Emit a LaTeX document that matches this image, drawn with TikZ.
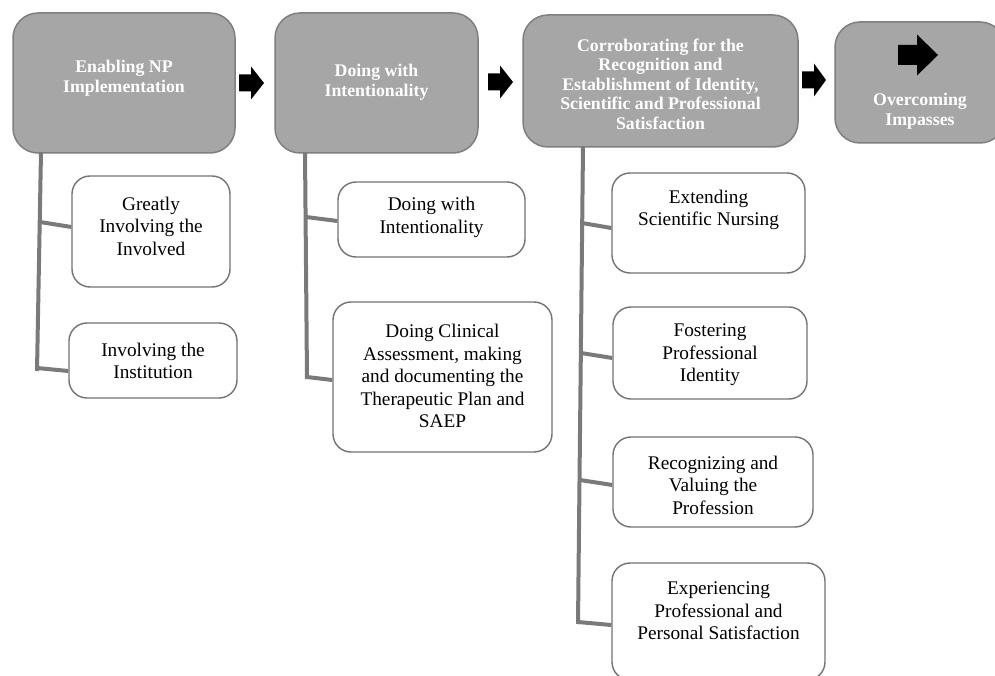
\documentclass[tikz,border=0pt]{standalone}
\usepackage{fontspec}
\setmainfont{Liberation Serif}
\usetikzlibrary{calc}
\definecolor{tfill}{HTML}{A6A6A6}
\definecolor{tline}{HTML}{7F7F7F}
\definecolor{sline}{HTML}{737373}
\definecolor{cline}{HTML}{7A7A7A}
\tikzset{
  tbox/.style={draw=tline, fill=tfill, line width=1.5pt, rounded corners=25pt, inner sep=0pt},
  sbox/.style={draw=sline, fill=white, line width=1.4pt, rounded corners=18pt, inner sep=0pt},
  ttext/.style={text=white, font=\bfseries\fontsize{17.8}{19.5}\selectfont, align=center, inner sep=0pt},
  stext/.style={text=black, font=\fontsize{19.3}{22.5}\selectfont, align=center, inner sep=0pt},
  conn/.style={draw=cline, line width=4pt},
}
\newcommand{\blockarr}[6]{\fill[black] (#1,#2-#5) -- (#3,#2-#5) -- (#3,#2-#6) -- (#4,#2) -- (#3,#2+#6) -- (#3,#2+#5) -- (#1,#2+#5) -- cycle;}
\begin{document}
\begin{tikzpicture}[x=1pt,y=-1pt]
\useasboundingbox (0,0) rectangle (995,676);
\clip (0,0) rectangle (995,676);
\fill[white] (0,0) rectangle (995,676);

% title boxes
\node[tbox, minimum width=222pt, minimum height=140pt] (t1) at (124,83) {};
\node[tbox, minimum width=203pt, minimum height=140pt] (t2) at (376.5,83) {};
\node[tbox, minimum width=275pt, minimum height=132pt] (t3) at (660.5,81) {};
\node[tbox, minimum width=170pt, minimum height=121pt] (t4) at (920,82.5) {};

\node[ttext] (t1l) at (124,78) {Enabling NP\\Implementation};
\node[ttext] (t2l) at (376.5,82) {Doing with\\Intentionality};
\node[ttext] (t3l) at (660.5,84) {Corroborating for the\\Recognition and\\Establishment of Identity,\\Scientific and Professional\\Satisfaction};
\node[ttext] (t4l) at (920,111) {Overcoming\\Impasses};

% block arrows
\blockarr{239}{83}{251}{264}{8.5}{16.5}
\blockarr{488}{82}{500}{513}{8.5}{16.5}
\blockarr{802}{80}{814}{826}{8.5}{16.5}
\blockarr{898}{55}{917}{938}{10}{20.5}

% sub boxes
\node[sbox, minimum width=158pt, minimum height=111pt] (s1) at (151,231.5) {};
\node[sbox, minimum width=168pt, minimum height=75pt] (s2) at (153,360.5) {};
\node[sbox, minimum width=187pt, minimum height=75pt] (s3) at (431.5,219.5) {};
\node[sbox, minimum width=219pt, minimum height=150pt] (s4) at (442.5,377) {};
\node[sbox, minimum width=193pt, minimum height=100pt] (s5) at (708.5,223) {};
\node[sbox, minimum width=194pt, minimum height=92pt] (s6) at (710,353) {};
\node[sbox, minimum width=200pt, minimum height=90pt] (s7) at (713,482) {};
\node[sbox, minimum width=213pt, minimum height=117pt] (s8) at (718.5,621.5) {};

\node[stext] (s1l) at (151,226) {Greatly\\Involving the\\Involved};
\node[stext] (s2l) at (153,361) {Involving the\\Institution};
\node[stext] (s3l) at (431.5,217.5) {Doing with\\Intentionality};
\node[stext] (s4l) at (442.5,376) {Doing Clinical\\Assessment, making\\and documenting the\\Therapeutic Plan and\\SAEP};
\node[stext] (s5l) at (708.5,210) {Extending\\Scientific Nursing};
\node[stext] (s6l) at (710,355) {Fostering\\Professional\\Identity};
\node[stext] (s7l) at (713,485) {Recognizing and\\Valuing the\\Profession};
\node[stext] (s8l) at (718.5,611) {Experiencing\\Professional and\\Personal Satisfaction};

% connectors
\coordinate (v1a) at (41,152);
\coordinate (v1b) at (37,371);
\coordinate (b11) at (40,222);
\coordinate (b12) at (37,368);
\draw[conn] (v1a) -- (v1b);
\draw[conn] (b11) -- ($(s1.west)+(0,-4.5)$);
\draw[conn] (b12) -- ($(s2.west)+(0,10.5)$);

\coordinate (v2a) at (305,152);
\coordinate (v2b) at (307,379);
\coordinate (b21) at (306,217);
\coordinate (b22) at (307,377);
\draw[conn] (v2a) -- (v2b);
\draw[conn] (b21) -- ($(s3.west)+(0,1.5)$);
\draw[conn] (b22) -- ($(s4.west)+(0,3)$);

\coordinate (v3a) at (583,146);
\coordinate (v3b) at (578,624);
\coordinate (b31) at (582,223);
\coordinate (b32) at (581,353);
\coordinate (b33) at (580,480);
\coordinate (b34) at (578,622);
\draw[conn] (v3a) -- (v3b);
\draw[conn] (b31) -- ($(s5.west)+(0,5)$);
\draw[conn] (b32) -- ($(s6.west)+(0,5)$);
\draw[conn] (b33) -- ($(s7.west)+(0,3)$);
\draw[conn] (b34) -- ($(s8.west)+(0,3.5)$);
\end{tikzpicture}
\end{document}
